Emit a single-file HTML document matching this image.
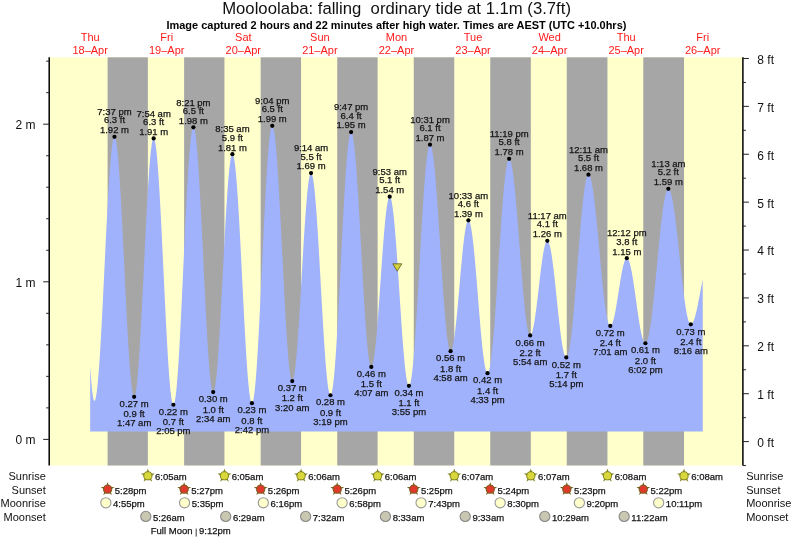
<!DOCTYPE html><html><head><meta charset="utf-8"><style>html,body{margin:0;padding:0;background:#fff;}svg{display:block;will-change:transform;}text{font-family:"Liberation Sans", sans-serif;} .lb{stroke:#1a1a1a;stroke-width:0.25px;}</style></head><body>
<svg width="793" height="539" viewBox="0 0 793 539">
<rect x="50" y="57.3" width="692.3" height="408.2" fill="#ffffcc"/>
<rect x="107.61" y="57.3" width="40.25" height="408.2" fill="#a6a6a6"/>
<rect x="184.13" y="57.3" width="40.31" height="408.2" fill="#a6a6a6"/>
<rect x="260.65" y="57.3" width="40.41" height="408.2" fill="#a6a6a6"/>
<rect x="337.22" y="57.3" width="40.41" height="408.2" fill="#a6a6a6"/>
<rect x="413.74" y="57.3" width="40.52" height="408.2" fill="#a6a6a6"/>
<rect x="490.25" y="57.3" width="40.57" height="408.2" fill="#a6a6a6"/>
<rect x="566.77" y="57.3" width="40.68" height="408.2" fill="#a6a6a6"/>
<rect x="643.29" y="57.3" width="40.73" height="408.2" fill="#a6a6a6"/>
<path d="M90.17,431.6 L90.17,365.82 L90.68,373.53 L91.19,380.38 L91.70,386.32 L92.21,391.29 L92.72,395.27 L93.23,398.22 L93.74,400.10 L94.25,400.91 L94.76,400.71 L95.27,399.66 L95.78,397.78 L96.29,395.07 L96.80,391.56 L97.31,387.28 L97.82,382.23 L98.33,376.47 L98.84,370.02 L99.35,362.92 L99.87,355.23 L100.38,346.98 L100.89,338.24 L101.40,329.06 L101.91,319.49 L102.42,309.60 L102.93,299.46 L103.44,289.11 L103.95,278.64 L104.46,268.11 L104.97,257.58 L105.48,247.12 L105.99,236.80 L106.50,226.69 L107.01,216.84 L107.52,207.33 L108.03,198.21 L108.54,189.54 L109.05,181.37 L109.56,173.76 L110.07,166.76 L110.59,160.40 L111.10,154.74 L111.61,149.81 L112.12,145.63 L112.63,142.24 L113.14,139.65 L113.65,137.89 L114.16,136.96 L114.67,136.88 L115.18,137.65 L115.69,139.28 L116.20,141.76 L116.71,145.07 L117.22,149.18 L117.73,154.08 L118.24,159.73 L118.75,166.09 L119.26,173.11 L119.77,180.76 L120.28,188.98 L120.79,197.72 L121.31,206.92 L121.82,216.51 L122.33,226.44 L122.84,236.64 L123.35,247.03 L123.86,257.56 L124.37,268.15 L124.88,278.73 L125.39,289.24 L125.90,299.59 L126.41,309.73 L126.92,319.58 L127.43,329.08 L127.94,338.17 L128.45,346.78 L128.96,354.86 L129.47,362.36 L129.98,369.22 L130.49,375.41 L131.00,380.87 L131.51,385.58 L132.03,389.49 L132.54,392.60 L133.05,394.86 L133.56,396.28 L134.07,396.84 L134.58,396.53 L135.09,395.35 L135.60,393.31 L136.11,390.42 L136.62,386.70 L137.13,382.18 L137.64,376.88 L138.15,370.85 L138.66,364.12 L139.17,356.74 L139.68,348.76 L140.19,340.23 L140.70,331.21 L141.21,321.76 L141.72,311.94 L142.23,301.83 L142.75,291.48 L143.26,280.98 L143.77,270.38 L144.28,259.77 L144.79,249.20 L145.30,238.77 L145.81,228.52 L146.32,218.54 L146.83,208.90 L147.34,199.64 L147.85,190.85 L148.36,182.58 L148.87,174.88 L149.38,167.80 L149.89,161.40 L150.40,155.72 L150.91,150.79 L151.42,146.65 L151.93,143.32 L152.44,140.84 L152.96,139.21 L153.47,138.45 L153.98,138.56 L154.49,139.54 L155.00,141.40 L155.51,144.12 L156.02,147.69 L156.53,152.07 L157.04,157.23 L157.55,163.16 L158.06,169.80 L158.57,177.11 L159.08,185.05 L159.59,193.55 L160.10,202.58 L160.61,212.05 L161.12,221.92 L161.63,232.12 L162.14,242.58 L162.65,253.23 L163.16,264.00 L163.68,274.83 L164.19,285.63 L164.70,296.33 L165.21,306.88 L165.72,317.19 L166.23,327.19 L166.74,336.84 L167.25,346.05 L167.76,354.76 L168.27,362.93 L168.78,370.50 L169.29,377.41 L169.80,383.62 L170.31,389.09 L170.82,393.79 L171.33,397.68 L171.84,400.73 L172.35,402.94 L172.86,404.27 L173.37,404.73 L173.88,404.30 L174.40,402.98 L174.91,400.79 L175.42,397.72 L175.93,393.81 L176.44,389.08 L176.95,383.56 L177.46,377.28 L177.97,370.29 L178.48,362.62 L178.99,354.34 L179.50,345.48 L180.01,336.12 L180.52,326.30 L181.03,316.10 L181.54,305.58 L182.05,294.80 L182.56,283.84 L183.07,272.76 L183.58,261.64 L184.09,250.54 L184.60,239.55 L185.12,228.73 L185.63,218.15 L186.14,207.87 L186.65,197.97 L187.16,188.51 L187.67,179.54 L188.18,171.14 L188.69,163.34 L189.20,156.20 L189.71,149.77 L190.22,144.08 L190.73,139.19 L191.24,135.10 L191.75,131.86 L192.26,129.48 L192.77,127.98 L193.28,127.37 L193.79,127.64 L194.30,128.77 L194.81,130.76 L195.32,133.59 L195.84,137.25 L196.35,141.71 L196.86,146.93 L197.37,152.90 L197.88,159.56 L198.39,166.88 L198.90,174.80 L199.41,183.28 L199.92,192.26 L200.43,201.68 L200.94,211.48 L201.45,221.59 L201.96,231.96 L202.47,242.50 L202.98,253.16 L203.49,263.86 L204.00,274.53 L204.51,285.11 L205.02,295.52 L205.53,305.70 L206.04,315.58 L206.56,325.09 L207.07,334.17 L207.58,342.77 L208.09,350.83 L208.60,358.29 L209.11,365.11 L209.62,371.24 L210.13,376.64 L210.64,381.27 L211.15,385.11 L211.66,388.14 L212.17,390.32 L212.68,391.65 L213.19,392.12 L213.70,391.74 L214.21,390.53 L214.72,388.50 L215.23,385.67 L215.74,382.06 L216.25,377.68 L216.77,372.57 L217.28,366.78 L217.79,360.32 L218.30,353.26 L218.81,345.64 L219.32,337.52 L219.83,328.94 L220.34,319.98 L220.85,310.69 L221.36,301.14 L221.87,291.39 L222.38,281.51 L222.89,271.58 L223.40,261.66 L223.91,251.81 L224.42,242.12 L224.93,232.64 L225.44,223.45 L225.95,214.60 L226.46,206.16 L226.97,198.18 L227.49,190.73 L228.00,183.86 L228.51,177.60 L229.02,172.02 L229.53,167.14 L230.04,162.99 L230.55,159.62 L231.06,157.04 L231.57,155.27 L232.08,154.32 L232.59,154.20 L233.10,154.91 L233.61,156.47 L234.12,158.84 L234.63,162.03 L235.14,166.00 L235.65,170.74 L236.16,176.20 L236.67,182.35 L237.18,189.15 L237.69,196.56 L238.21,204.52 L238.72,212.98 L239.23,221.89 L239.74,231.17 L240.25,240.78 L240.76,250.65 L241.27,260.70 L241.78,270.87 L242.29,281.10 L242.80,291.31 L243.31,301.43 L243.82,311.40 L244.33,321.15 L244.84,330.62 L245.35,339.73 L245.86,348.43 L246.37,356.66 L246.88,364.36 L247.39,371.48 L247.90,377.98 L248.41,383.80 L248.93,388.92 L249.44,393.29 L249.95,396.89 L250.46,399.69 L250.97,401.68 L251.48,402.83 L251.99,403.15 L252.50,402.61 L253.01,401.20 L253.52,398.95 L254.03,395.86 L254.54,391.95 L255.05,387.25 L255.56,381.78 L256.07,375.58 L256.58,368.69 L257.09,361.15 L257.60,353.01 L258.11,344.31 L258.62,335.12 L259.13,325.49 L259.65,315.48 L260.16,305.15 L260.67,294.56 L261.18,283.79 L261.69,272.90 L262.20,261.95 L262.71,251.03 L263.22,240.18 L263.73,229.49 L264.24,219.01 L264.75,208.82 L265.26,198.97 L265.77,189.54 L266.28,180.56 L266.79,172.12 L267.30,164.24 L267.81,156.99 L268.32,150.42 L268.83,144.55 L269.34,139.43 L269.85,135.08 L270.37,131.55 L270.88,128.84 L271.39,126.97 L271.90,125.97 L272.41,125.82 L272.92,126.51 L273.43,128.01 L273.94,130.31 L274.45,133.41 L274.96,137.28 L275.47,141.90 L275.98,147.23 L276.49,153.25 L277.00,159.91 L277.51,167.17 L278.02,174.99 L278.53,183.31 L279.04,192.08 L279.55,201.25 L280.06,210.75 L280.58,220.53 L281.09,230.52 L281.60,240.65 L282.11,250.87 L282.62,261.11 L283.13,271.29 L283.64,281.36 L284.15,291.25 L284.66,300.90 L285.17,310.24 L285.68,319.22 L286.19,327.77 L286.70,335.85 L287.21,343.40 L287.72,350.36 L288.23,356.71 L288.74,362.39 L289.25,367.37 L289.76,371.61 L290.27,375.10 L290.78,377.81 L291.30,379.71 L291.81,380.80 L292.32,381.08 L292.83,380.57 L293.34,379.32 L293.85,377.33 L294.36,374.60 L294.87,371.17 L295.38,367.06 L295.89,362.29 L296.40,356.91 L296.91,350.95 L297.42,344.45 L297.93,337.46 L298.44,330.04 L298.95,322.23 L299.46,314.09 L299.97,305.68 L300.48,297.07 L300.99,288.31 L301.50,279.47 L302.02,270.61 L302.53,261.80 L303.04,253.10 L303.55,244.58 L304.06,236.29 L304.57,228.29 L305.08,220.65 L305.59,213.42 L306.10,206.65 L306.61,200.39 L307.12,194.69 L307.63,189.59 L308.14,185.12 L308.65,181.31 L309.16,178.20 L309.67,175.81 L310.18,174.16 L310.69,173.25 L311.20,173.09 L311.71,173.69 L312.22,175.04 L312.74,177.14 L313.25,179.97 L313.76,183.51 L314.27,187.74 L314.78,192.62 L315.29,198.13 L315.80,204.22 L316.31,210.87 L316.82,218.01 L317.33,225.60 L317.84,233.59 L318.35,241.93 L318.86,250.56 L319.37,259.41 L319.88,268.44 L320.39,277.57 L320.90,286.75 L321.41,295.90 L321.92,304.98 L322.43,313.92 L322.94,322.65 L323.46,331.13 L323.97,339.28 L324.48,347.05 L324.99,354.40 L325.50,361.26 L326.01,367.60 L326.52,373.37 L327.03,378.54 L327.54,383.05 L328.05,386.90 L328.56,390.04 L329.07,392.46 L329.58,394.14 L330.09,395.07 L330.60,395.24 L331.11,394.63 L331.62,393.23 L332.13,391.04 L332.64,388.09 L333.15,384.38 L333.66,379.95 L334.18,374.81 L334.69,369.00 L335.20,362.56 L335.71,355.52 L336.22,347.92 L336.73,339.81 L337.24,331.25 L337.75,322.28 L338.26,312.95 L338.77,303.33 L339.28,293.46 L339.79,283.42 L340.30,273.26 L340.81,263.04 L341.32,252.82 L341.83,242.67 L342.34,232.64 L342.85,222.81 L343.36,213.22 L343.87,203.93 L344.39,195.01 L344.90,186.50 L345.41,178.45 L345.92,170.93 L346.43,163.96 L346.94,157.59 L347.45,151.86 L347.96,146.81 L348.47,142.47 L348.98,138.85 L349.49,135.99 L350.00,133.91 L350.51,132.60 L351.02,132.09 L351.53,132.35 L352.04,133.35 L352.55,135.08 L353.06,137.53 L353.57,140.69 L354.08,144.53 L354.59,149.03 L355.11,154.16 L355.62,159.90 L356.13,166.20 L356.64,173.02 L357.15,180.32 L357.66,188.06 L358.17,196.19 L358.68,204.65 L359.19,213.39 L359.70,222.37 L360.21,231.51 L360.72,240.76 L361.23,250.07 L361.74,259.38 L362.25,268.63 L362.76,277.75 L363.27,286.70 L363.78,295.41 L364.29,303.83 L364.80,311.91 L365.31,319.60 L365.83,326.85 L366.34,333.61 L366.85,339.84 L367.36,345.50 L367.87,350.55 L368.38,354.97 L368.89,358.73 L369.40,361.80 L369.91,364.16 L370.42,365.80 L370.93,366.71 L371.44,366.88 L371.95,366.38 L372.46,365.24 L372.97,363.47 L373.48,361.07 L373.99,358.08 L374.50,354.50 L375.01,350.38 L375.52,345.73 L376.03,340.60 L376.55,335.02 L377.06,329.03 L377.57,322.69 L378.08,316.04 L378.59,309.13 L379.10,302.01 L379.61,294.73 L380.12,287.36 L380.63,279.95 L381.14,272.55 L381.65,265.22 L382.16,258.01 L382.67,250.99 L383.18,244.20 L383.69,237.70 L384.20,231.53 L384.71,225.74 L385.22,220.38 L385.73,215.48 L386.24,211.09 L386.75,207.24 L387.27,203.95 L387.78,201.25 L388.29,199.17 L388.80,197.71 L389.31,196.89 L389.82,196.71 L390.33,197.19 L390.84,198.32 L391.35,200.10 L391.86,202.51 L392.37,205.53 L392.88,209.15 L393.39,213.33 L393.90,218.06 L394.41,223.30 L394.92,229.01 L395.43,235.15 L395.94,241.67 L396.45,248.55 L396.96,255.71 L397.47,263.13 L397.99,270.74 L398.50,278.49 L399.01,286.33 L399.52,294.21 L400.03,302.06 L400.54,309.84 L401.05,317.50 L401.56,324.96 L402.07,332.20 L402.58,339.15 L403.09,345.77 L403.60,352.01 L404.11,357.83 L404.62,363.19 L405.13,368.05 L405.64,372.37 L406.15,376.13 L406.66,379.31 L407.17,381.87 L407.68,383.81 L408.20,385.10 L408.71,385.74 L409.22,385.72 L409.73,385.01 L410.24,383.60 L410.75,381.51 L411.26,378.74 L411.77,375.31 L412.28,371.25 L412.79,366.57 L413.30,361.31 L413.81,355.49 L414.32,349.14 L414.83,342.31 L415.34,335.03 L415.85,327.35 L416.36,319.30 L416.87,310.95 L417.38,302.33 L417.89,293.49 L418.40,284.49 L418.92,275.38 L419.43,266.21 L419.94,257.03 L420.45,247.90 L420.96,238.88 L421.47,230.00 L421.98,221.33 L422.49,212.92 L423.00,204.80 L423.51,197.04 L424.02,189.68 L424.53,182.75 L425.04,176.30 L425.55,170.36 L426.06,164.98 L426.57,160.18 L427.08,155.98 L427.59,152.42 L428.10,149.52 L428.61,147.28 L429.12,145.73 L429.64,144.87 L430.15,144.71 L430.66,145.19 L431.17,146.30 L431.68,148.02 L432.19,150.35 L432.70,153.27 L433.21,156.77 L433.72,160.82 L434.23,165.40 L434.74,170.48 L435.25,176.03 L435.76,182.01 L436.27,188.40 L436.78,195.15 L437.29,202.21 L437.80,209.56 L438.31,217.13 L438.82,224.90 L439.33,232.80 L439.84,240.80 L440.36,248.84 L440.87,256.87 L441.38,264.85 L441.89,272.73 L442.40,280.45 L442.91,287.98 L443.42,295.27 L443.93,302.26 L444.44,308.93 L444.95,315.23 L445.46,321.12 L445.97,326.56 L446.48,331.53 L446.99,335.99 L447.50,339.91 L448.01,343.28 L448.52,346.07 L449.03,348.26 L449.54,349.84 L450.05,350.80 L450.56,351.14 L451.08,350.90 L451.59,350.13 L452.10,348.84 L452.61,347.03 L453.12,344.74 L453.63,341.96 L454.14,338.72 L454.65,335.06 L455.16,331.00 L455.67,326.57 L456.18,321.81 L456.69,316.76 L457.20,311.46 L457.71,305.95 L458.22,300.28 L458.73,294.48 L459.24,288.62 L459.75,282.74 L460.26,276.87 L460.77,271.08 L461.28,265.41 L461.80,259.91 L462.31,254.61 L462.82,249.56 L463.33,244.81 L463.84,240.39 L464.35,236.34 L464.86,232.68 L465.37,229.46 L465.88,226.69 L466.39,224.40 L466.90,222.61 L467.41,221.33 L467.92,220.57 L468.43,220.34 L468.94,220.64 L469.45,221.47 L469.96,222.84 L470.47,224.72 L470.98,227.11 L471.49,229.98 L472.01,233.33 L472.52,237.12 L473.03,241.33 L473.54,245.92 L474.05,250.88 L474.56,256.15 L475.07,261.71 L475.58,267.52 L476.09,273.53 L476.60,279.71 L477.11,286.00 L477.62,292.37 L478.13,298.77 L478.64,305.16 L479.15,311.49 L479.66,317.71 L480.17,323.79 L480.68,329.68 L481.19,335.34 L481.70,340.72 L482.21,345.80 L482.73,350.54 L483.24,354.89 L483.75,358.84 L484.26,362.36 L484.77,365.41 L485.28,367.99 L485.79,370.06 L486.30,371.62 L486.81,372.65 L487.32,373.16 L487.83,373.11 L488.34,372.49 L488.85,371.27 L489.36,369.48 L489.87,367.11 L490.38,364.19 L490.89,360.72 L491.40,356.74 L491.91,352.25 L492.42,347.29 L492.93,341.88 L493.45,336.05 L493.96,329.83 L494.47,323.27 L494.98,316.38 L495.49,309.22 L496.00,301.83 L496.51,294.23 L497.02,286.48 L497.53,278.62 L498.04,270.68 L498.55,262.72 L499.06,254.78 L499.57,246.90 L500.08,239.13 L500.59,231.51 L501.10,224.07 L501.61,216.87 L502.12,209.94 L502.63,203.32 L503.14,197.04 L503.65,191.15 L504.17,185.66 L504.68,180.62 L505.19,176.06 L505.70,171.98 L506.21,168.43 L506.72,165.42 L507.23,162.96 L507.74,161.07 L508.25,159.75 L508.76,159.03 L509.27,158.89 L509.78,159.29 L510.29,160.20 L510.80,161.61 L511.31,163.52 L511.82,165.92 L512.33,168.80 L512.84,172.13 L513.35,175.89 L513.86,180.07 L514.37,184.65 L514.89,189.58 L515.40,194.86 L515.91,200.43 L516.42,206.28 L516.93,212.37 L517.44,218.66 L517.95,225.11 L518.46,231.69 L518.97,238.37 L519.48,245.09 L519.99,251.83 L520.50,258.54 L521.01,265.18 L521.52,271.72 L522.03,278.11 L522.54,284.32 L523.05,290.32 L523.56,296.07 L524.07,301.53 L524.58,306.67 L525.09,311.46 L525.61,315.88 L526.12,319.91 L526.63,323.50 L527.14,326.65 L527.65,329.34 L528.16,331.55 L528.67,333.27 L529.18,334.48 L529.69,335.19 L530.20,335.38 L530.71,335.12 L531.22,334.46 L531.73,333.39 L532.24,331.92 L532.75,330.07 L533.26,327.86 L533.77,325.30 L534.28,322.42 L534.79,319.24 L535.30,315.78 L535.82,312.09 L536.33,308.18 L536.84,304.11 L537.35,299.89 L537.86,295.57 L538.37,291.18 L538.88,286.77 L539.39,282.37 L539.90,278.02 L540.41,273.76 L540.92,269.62 L541.43,265.64 L541.94,261.86 L542.45,258.31 L542.96,255.02 L543.47,252.01 L543.98,249.32 L544.49,246.97 L545.00,244.97 L545.51,243.36 L546.02,242.13 L546.54,241.30 L547.05,240.88 L547.56,240.87 L548.07,241.28 L548.58,242.10 L549.09,243.32 L549.60,244.95 L550.11,246.96 L550.62,249.34 L551.13,252.08 L551.64,255.16 L552.15,258.54 L552.66,262.22 L553.17,266.16 L553.68,270.34 L554.19,274.72 L554.70,279.27 L555.21,283.97 L555.72,288.77 L556.23,293.65 L556.74,298.57 L557.26,303.49 L557.77,308.38 L558.28,313.21 L558.79,317.93 L559.30,322.53 L559.81,326.95 L560.32,331.17 L560.83,335.17 L561.34,338.91 L561.85,342.37 L562.36,345.51 L562.87,348.33 L563.38,350.80 L563.89,352.90 L564.40,354.61 L564.91,355.93 L565.42,356.84 L565.93,357.34 L566.44,357.43 L566.95,357.05 L567.46,356.20 L567.98,354.87 L568.49,353.08 L569.00,350.83 L569.51,348.15 L570.02,345.03 L570.53,341.50 L571.04,337.57 L571.55,333.27 L572.06,328.62 L572.57,323.65 L573.08,318.37 L573.59,312.81 L574.10,307.02 L574.61,301.00 L575.12,294.81 L575.63,288.47 L576.14,282.00 L576.65,275.46 L577.16,268.86 L577.67,262.25 L578.18,255.66 L578.70,249.13 L579.21,242.68 L579.72,236.36 L580.23,230.19 L580.74,224.20 L581.25,218.44 L581.76,212.93 L582.27,207.69 L582.78,202.76 L583.29,198.16 L583.80,193.91 L584.31,190.04 L584.82,186.57 L585.33,183.51 L585.84,180.89 L586.35,178.71 L586.86,176.99 L587.37,175.73 L587.88,174.95 L588.39,174.64 L588.90,174.78 L589.42,175.33 L589.93,176.29 L590.44,177.65 L590.95,179.40 L591.46,181.54 L591.97,184.05 L592.48,186.91 L592.99,190.12 L593.50,193.65 L594.01,197.49 L594.52,201.61 L595.03,206.00 L595.54,210.63 L596.05,215.47 L596.56,220.50 L597.07,225.69 L597.58,231.02 L598.09,236.45 L598.60,241.95 L599.11,247.50 L599.63,253.06 L600.14,258.61 L600.65,264.11 L601.16,269.54 L601.67,274.87 L602.18,280.06 L602.69,285.09 L603.20,289.93 L603.71,294.56 L604.22,298.95 L604.73,303.07 L605.24,306.91 L605.75,310.44 L606.26,313.65 L606.77,316.51 L607.28,319.02 L607.79,321.16 L608.30,322.91 L608.81,324.27 L609.32,325.23 L609.83,325.78 L610.35,325.92 L610.86,325.72 L611.37,325.20 L611.88,324.36 L612.39,323.23 L612.90,321.80 L613.41,320.09 L613.92,318.11 L614.43,315.89 L614.94,313.45 L615.45,310.81 L615.96,307.99 L616.47,305.02 L616.98,301.93 L617.49,298.74 L618.00,295.50 L618.51,292.22 L619.02,288.93 L619.53,285.68 L620.04,282.49 L620.55,279.39 L621.07,276.40 L621.58,273.57 L622.09,270.90 L622.60,268.44 L623.11,266.20 L623.62,264.20 L624.13,262.46 L624.64,261.00 L625.15,259.83 L625.66,258.96 L626.17,258.41 L626.68,258.17 L627.19,258.25 L627.70,258.64 L628.21,259.35 L628.72,260.36 L629.23,261.67 L629.74,263.28 L630.25,265.16 L630.76,267.30 L631.27,269.69 L631.79,272.31 L632.30,275.15 L632.81,278.17 L633.32,281.36 L633.83,284.69 L634.34,288.15 L634.85,291.69 L635.36,295.30 L635.87,298.96 L636.38,302.62 L636.89,306.27 L637.40,309.88 L637.91,313.42 L638.42,316.87 L638.93,320.20 L639.44,323.38 L639.95,326.40 L640.46,329.22 L640.97,331.84 L641.48,334.22 L641.99,336.35 L642.51,338.22 L643.02,339.81 L643.53,341.11 L644.04,342.11 L644.55,342.80 L645.06,343.18 L645.57,343.25 L646.08,342.95 L646.59,342.27 L647.10,341.22 L647.61,339.81 L648.12,338.03 L648.63,335.90 L649.14,333.43 L649.65,330.63 L650.16,327.51 L650.67,324.09 L651.18,320.39 L651.69,316.42 L652.20,312.20 L652.71,307.76 L653.23,303.11 L653.74,298.29 L654.25,293.30 L654.76,288.18 L655.27,282.96 L655.78,277.65 L656.29,272.28 L656.80,266.88 L657.31,261.48 L657.82,256.10 L658.33,250.77 L658.84,245.52 L659.35,240.36 L659.86,235.33 L660.37,230.46 L660.88,225.75 L661.39,221.24 L661.90,216.95 L662.41,212.91 L662.92,209.12 L663.44,205.61 L663.95,202.40 L664.46,199.49 L664.97,196.92 L665.48,194.68 L665.99,192.79 L666.50,191.26 L667.01,190.09 L667.52,189.30 L668.03,188.89 L668.54,188.84 L669.05,189.15 L669.56,189.80 L670.07,190.79 L670.58,192.12 L671.09,193.77 L671.60,195.74 L672.11,198.02 L672.62,200.60 L673.13,203.46 L673.64,206.59 L674.16,209.98 L674.67,213.60 L675.18,217.45 L675.69,221.49 L676.20,225.71 L676.71,230.08 L677.22,234.59 L677.73,239.21 L678.24,243.93 L678.75,248.70 L679.26,253.51 L679.77,258.35 L680.28,263.17 L680.79,267.96 L681.30,272.69 L681.81,277.33 L682.32,281.88 L682.83,286.29 L683.34,290.56 L683.85,294.65 L684.36,298.54 L684.88,302.23 L685.39,305.68 L685.90,308.88 L686.41,311.82 L686.92,314.48 L687.43,316.84 L687.94,318.90 L688.45,320.64 L688.96,322.05 L689.47,323.13 L689.98,323.87 L690.49,324.28 L691.00,324.34 L691.51,324.14 L692.02,323.71 L692.53,323.05 L693.04,322.16 L693.55,321.05 L694.06,319.73 L694.57,318.22 L695.08,316.51 L695.60,314.62 L696.11,312.58 L696.62,310.39 L697.13,308.07 L697.64,305.64 L698.15,303.12 L698.66,300.52 L699.17,297.87 L699.68,295.19 L700.19,292.50 L700.70,289.81 L701.21,287.16 L701.72,284.55 L702.23,282.02 L702.74,279.57 L702.74,431.6 Z" fill="#a0b2fb"/>
<circle cx="114.47" cy="136.81" r="2.1" fill="#000"/>
<text x="114.47" y="115.11" font-size="9.5" text-anchor="middle" fill="#111" class="lb">7:37 pm</text>
<text x="114.47" y="123.41" font-size="9.5" text-anchor="middle" fill="#111" class="lb">6.3 ft</text>
<text x="114.47" y="133.21" font-size="9.5" text-anchor="middle" fill="#111" class="lb">1.92 m</text>
<circle cx="134.14" cy="396.85" r="2.1" fill="#000"/>
<text x="134.14" y="407.05" font-size="9.5" text-anchor="middle" fill="#111" class="lb">0.27 m</text>
<text x="134.14" y="417.25" font-size="9.5" text-anchor="middle" fill="#111" class="lb">0.9 ft</text>
<text x="134.14" y="426.35" font-size="9.5" text-anchor="middle" fill="#111" class="lb">1:47 am</text>
<circle cx="153.66" cy="138.38" r="2.1" fill="#000"/>
<text x="153.66" y="116.68" font-size="9.5" text-anchor="middle" fill="#111" class="lb">7:54 am</text>
<text x="153.66" y="124.98" font-size="9.5" text-anchor="middle" fill="#111" class="lb">6.3 ft</text>
<text x="153.66" y="134.78" font-size="9.5" text-anchor="middle" fill="#111" class="lb">1.91 m</text>
<circle cx="173.38" cy="404.73" r="2.1" fill="#000"/>
<text x="173.38" y="414.93" font-size="9.5" text-anchor="middle" fill="#111" class="lb">0.22 m</text>
<text x="173.38" y="425.13" font-size="9.5" text-anchor="middle" fill="#111" class="lb">0.7 ft</text>
<text x="173.38" y="434.23" font-size="9.5" text-anchor="middle" fill="#111" class="lb">2:05 pm</text>
<circle cx="193.38" cy="127.35" r="2.1" fill="#000"/>
<text x="193.38" y="105.65" font-size="9.5" text-anchor="middle" fill="#111" class="lb">8:21 pm</text>
<text x="193.38" y="113.95" font-size="9.5" text-anchor="middle" fill="#111" class="lb">6.5 ft</text>
<text x="193.38" y="123.75" font-size="9.5" text-anchor="middle" fill="#111" class="lb">1.98 m</text>
<circle cx="213.21" cy="392.12" r="2.1" fill="#000"/>
<text x="213.21" y="402.32" font-size="9.5" text-anchor="middle" fill="#111" class="lb">0.30 m</text>
<text x="213.21" y="412.52" font-size="9.5" text-anchor="middle" fill="#111" class="lb">1.0 ft</text>
<text x="213.21" y="421.62" font-size="9.5" text-anchor="middle" fill="#111" class="lb">2:34 am</text>
<circle cx="232.41" cy="154.14" r="2.1" fill="#000"/>
<text x="232.41" y="132.44" font-size="9.5" text-anchor="middle" fill="#111" class="lb">8:35 am</text>
<text x="232.41" y="140.74" font-size="9.5" text-anchor="middle" fill="#111" class="lb">5.9 ft</text>
<text x="232.41" y="150.54" font-size="9.5" text-anchor="middle" fill="#111" class="lb">1.81 m</text>
<circle cx="251.92" cy="403.15" r="2.1" fill="#000"/>
<text x="251.92" y="413.35" font-size="9.5" text-anchor="middle" fill="#111" class="lb">0.23 m</text>
<text x="251.92" y="423.55" font-size="9.5" text-anchor="middle" fill="#111" class="lb">0.8 ft</text>
<text x="251.92" y="432.65" font-size="9.5" text-anchor="middle" fill="#111" class="lb">2:42 pm</text>
<circle cx="272.24" cy="125.78" r="2.1" fill="#000"/>
<text x="272.24" y="104.08" font-size="9.5" text-anchor="middle" fill="#111" class="lb">9:04 pm</text>
<text x="272.24" y="112.38" font-size="9.5" text-anchor="middle" fill="#111" class="lb">6.5 ft</text>
<text x="272.24" y="122.18" font-size="9.5" text-anchor="middle" fill="#111" class="lb">1.99 m</text>
<circle cx="292.23" cy="381.09" r="2.1" fill="#000"/>
<text x="292.23" y="391.29" font-size="9.5" text-anchor="middle" fill="#111" class="lb">0.37 m</text>
<text x="292.23" y="401.49" font-size="9.5" text-anchor="middle" fill="#111" class="lb">1.2 ft</text>
<text x="292.23" y="410.59" font-size="9.5" text-anchor="middle" fill="#111" class="lb">3:20 am</text>
<circle cx="311.05" cy="173.06" r="2.1" fill="#000"/>
<text x="311.05" y="151.36" font-size="9.5" text-anchor="middle" fill="#111" class="lb">9:14 am</text>
<text x="311.05" y="159.66" font-size="9.5" text-anchor="middle" fill="#111" class="lb">5.5 ft</text>
<text x="311.05" y="169.46" font-size="9.5" text-anchor="middle" fill="#111" class="lb">1.69 m</text>
<circle cx="330.46" cy="395.27" r="2.1" fill="#000"/>
<text x="330.46" y="405.47" font-size="9.5" text-anchor="middle" fill="#111" class="lb">0.28 m</text>
<text x="330.46" y="415.67" font-size="9.5" text-anchor="middle" fill="#111" class="lb">0.9 ft</text>
<text x="330.46" y="424.77" font-size="9.5" text-anchor="middle" fill="#111" class="lb">3:19 pm</text>
<circle cx="351.10" cy="132.08" r="2.1" fill="#000"/>
<text x="351.10" y="110.38" font-size="9.5" text-anchor="middle" fill="#111" class="lb">9:47 pm</text>
<text x="351.10" y="118.68" font-size="9.5" text-anchor="middle" fill="#111" class="lb">6.4 ft</text>
<text x="351.10" y="128.48" font-size="9.5" text-anchor="middle" fill="#111" class="lb">1.95 m</text>
<circle cx="371.30" cy="366.90" r="2.1" fill="#000"/>
<text x="371.30" y="377.10" font-size="9.5" text-anchor="middle" fill="#111" class="lb">0.46 m</text>
<text x="371.30" y="387.30" font-size="9.5" text-anchor="middle" fill="#111" class="lb">1.5 ft</text>
<text x="371.30" y="396.40" font-size="9.5" text-anchor="middle" fill="#111" class="lb">4:07 am</text>
<circle cx="389.70" cy="196.70" r="2.1" fill="#000"/>
<text x="389.70" y="175.00" font-size="9.5" text-anchor="middle" fill="#111" class="lb">9:53 am</text>
<text x="389.70" y="183.30" font-size="9.5" text-anchor="middle" fill="#111" class="lb">5.1 ft</text>
<text x="389.70" y="193.10" font-size="9.5" text-anchor="middle" fill="#111" class="lb">1.54 m</text>
<circle cx="408.95" cy="385.82" r="2.1" fill="#000"/>
<text x="408.95" y="396.02" font-size="9.5" text-anchor="middle" fill="#111" class="lb">0.34 m</text>
<text x="408.95" y="406.22" font-size="9.5" text-anchor="middle" fill="#111" class="lb">1.1 ft</text>
<text x="408.95" y="415.32" font-size="9.5" text-anchor="middle" fill="#111" class="lb">3:55 pm</text>
<circle cx="430.01" cy="144.69" r="2.1" fill="#000"/>
<text x="430.01" y="122.99" font-size="9.5" text-anchor="middle" fill="#111" class="lb">10:31 pm</text>
<text x="430.01" y="131.29" font-size="9.5" text-anchor="middle" fill="#111" class="lb">6.1 ft</text>
<text x="430.01" y="141.09" font-size="9.5" text-anchor="middle" fill="#111" class="lb">1.87 m</text>
<circle cx="450.59" cy="351.14" r="2.1" fill="#000"/>
<text x="450.59" y="361.34" font-size="9.5" text-anchor="middle" fill="#111" class="lb">0.56 m</text>
<text x="450.59" y="371.54" font-size="9.5" text-anchor="middle" fill="#111" class="lb">1.8 ft</text>
<text x="450.59" y="380.64" font-size="9.5" text-anchor="middle" fill="#111" class="lb">4:58 am</text>
<circle cx="468.40" cy="220.34" r="2.1" fill="#000"/>
<text x="468.40" y="198.64" font-size="9.5" text-anchor="middle" fill="#111" class="lb">10:33 am</text>
<text x="468.40" y="206.94" font-size="9.5" text-anchor="middle" fill="#111" class="lb">4.6 ft</text>
<text x="468.40" y="216.74" font-size="9.5" text-anchor="middle" fill="#111" class="lb">1.39 m</text>
<circle cx="487.54" cy="373.21" r="2.1" fill="#000"/>
<text x="487.54" y="383.41" font-size="9.5" text-anchor="middle" fill="#111" class="lb">0.42 m</text>
<text x="487.54" y="393.61" font-size="9.5" text-anchor="middle" fill="#111" class="lb">1.4 ft</text>
<text x="487.54" y="402.71" font-size="9.5" text-anchor="middle" fill="#111" class="lb">4:33 pm</text>
<circle cx="509.13" cy="158.87" r="2.1" fill="#000"/>
<text x="509.13" y="137.17" font-size="9.5" text-anchor="middle" fill="#111" class="lb">11:19 pm</text>
<text x="509.13" y="145.47" font-size="9.5" text-anchor="middle" fill="#111" class="lb">5.8 ft</text>
<text x="509.13" y="155.27" font-size="9.5" text-anchor="middle" fill="#111" class="lb">1.78 m</text>
<circle cx="530.14" cy="335.38" r="2.1" fill="#000"/>
<text x="530.14" y="345.58" font-size="9.5" text-anchor="middle" fill="#111" class="lb">0.66 m</text>
<text x="530.14" y="355.78" font-size="9.5" text-anchor="middle" fill="#111" class="lb">2.2 ft</text>
<text x="530.14" y="364.88" font-size="9.5" text-anchor="middle" fill="#111" class="lb">5:54 am</text>
<circle cx="547.31" cy="240.82" r="2.1" fill="#000"/>
<text x="547.31" y="219.12" font-size="9.5" text-anchor="middle" fill="#111" class="lb">11:17 am</text>
<text x="547.31" y="227.42" font-size="9.5" text-anchor="middle" fill="#111" class="lb">4.1 ft</text>
<text x="547.31" y="237.22" font-size="9.5" text-anchor="middle" fill="#111" class="lb">1.26 m</text>
<circle cx="566.29" cy="357.45" r="2.1" fill="#000"/>
<text x="566.29" y="367.65" font-size="9.5" text-anchor="middle" fill="#111" class="lb">0.52 m</text>
<text x="566.29" y="377.85" font-size="9.5" text-anchor="middle" fill="#111" class="lb">1.7 ft</text>
<text x="566.29" y="386.95" font-size="9.5" text-anchor="middle" fill="#111" class="lb">5:14 pm</text>
<circle cx="588.47" cy="174.63" r="2.1" fill="#000"/>
<text x="588.47" y="152.93" font-size="9.5" text-anchor="middle" fill="#111" class="lb">12:11 am</text>
<text x="588.47" y="161.23" font-size="9.5" text-anchor="middle" fill="#111" class="lb">5.5 ft</text>
<text x="588.47" y="171.03" font-size="9.5" text-anchor="middle" fill="#111" class="lb">1.68 m</text>
<circle cx="610.27" cy="325.93" r="2.1" fill="#000"/>
<text x="610.27" y="336.13" font-size="9.5" text-anchor="middle" fill="#111" class="lb">0.72 m</text>
<text x="610.27" y="346.33" font-size="9.5" text-anchor="middle" fill="#111" class="lb">2.4 ft</text>
<text x="610.27" y="355.43" font-size="9.5" text-anchor="middle" fill="#111" class="lb">7:01 am</text>
<circle cx="626.81" cy="258.16" r="2.1" fill="#000"/>
<text x="626.81" y="236.46" font-size="9.5" text-anchor="middle" fill="#111" class="lb">12:12 pm</text>
<text x="626.81" y="244.76" font-size="9.5" text-anchor="middle" fill="#111" class="lb">3.8 ft</text>
<text x="626.81" y="254.56" font-size="9.5" text-anchor="middle" fill="#111" class="lb">1.15 m</text>
<circle cx="645.42" cy="343.26" r="2.1" fill="#000"/>
<text x="645.42" y="353.46" font-size="9.5" text-anchor="middle" fill="#111" class="lb">0.61 m</text>
<text x="645.42" y="363.66" font-size="9.5" text-anchor="middle" fill="#111" class="lb">2.0 ft</text>
<text x="645.42" y="372.76" font-size="9.5" text-anchor="middle" fill="#111" class="lb">6:02 pm</text>
<circle cx="668.34" cy="188.82" r="2.1" fill="#000"/>
<text x="668.34" y="167.12" font-size="9.5" text-anchor="middle" fill="#111" class="lb">1:13 am</text>
<text x="668.34" y="175.42" font-size="9.5" text-anchor="middle" fill="#111" class="lb">5.2 ft</text>
<text x="668.34" y="185.22" font-size="9.5" text-anchor="middle" fill="#111" class="lb">1.59 m</text>
<circle cx="690.83" cy="324.35" r="2.1" fill="#000"/>
<text x="690.83" y="334.55" font-size="9.5" text-anchor="middle" fill="#111" class="lb">0.73 m</text>
<text x="690.83" y="344.75" font-size="9.5" text-anchor="middle" fill="#111" class="lb">2.4 ft</text>
<text x="690.83" y="353.85" font-size="9.5" text-anchor="middle" fill="#111" class="lb">8:16 am</text>
<path d="M392.8,263.8 L401.8,263.8 L397.2,271.2 Z" fill="#d6d23a" stroke="#5a5a20" stroke-width="0.8"/>
<line x1="49.2" y1="57.3" x2="49.2" y2="465.5" stroke="#000" stroke-width="1.5"/>
<line x1="43.2" y1="439.40" x2="49.2" y2="439.40" stroke="#222" stroke-width="1"/>
<line x1="46.2" y1="407.88" x2="49.2" y2="407.88" stroke="#222" stroke-width="1"/>
<line x1="46.2" y1="376.36" x2="49.2" y2="376.36" stroke="#222" stroke-width="1"/>
<line x1="46.2" y1="344.84" x2="49.2" y2="344.84" stroke="#222" stroke-width="1"/>
<line x1="46.2" y1="313.32" x2="49.2" y2="313.32" stroke="#222" stroke-width="1"/>
<line x1="43.2" y1="281.80" x2="49.2" y2="281.80" stroke="#222" stroke-width="1"/>
<line x1="46.2" y1="250.28" x2="49.2" y2="250.28" stroke="#222" stroke-width="1"/>
<line x1="46.2" y1="218.76" x2="49.2" y2="218.76" stroke="#222" stroke-width="1"/>
<line x1="46.2" y1="187.24" x2="49.2" y2="187.24" stroke="#222" stroke-width="1"/>
<line x1="46.2" y1="155.72" x2="49.2" y2="155.72" stroke="#222" stroke-width="1"/>
<line x1="43.2" y1="124.20" x2="49.2" y2="124.20" stroke="#222" stroke-width="1"/>
<line x1="46.2" y1="92.68" x2="49.2" y2="92.68" stroke="#222" stroke-width="1"/>
<line x1="46.2" y1="61.16" x2="49.2" y2="61.16" stroke="#222" stroke-width="1"/>
<text x="35.5" y="444.20" font-size="12" text-anchor="end" fill="#111">0 m</text>
<text x="35.5" y="286.60" font-size="12" text-anchor="end" fill="#111">1 m</text>
<text x="35.5" y="129.00" font-size="12" text-anchor="end" fill="#111">2 m</text>
<line x1="742.9" y1="57.3" x2="742.9" y2="465.5" stroke="#000" stroke-width="1.5"/>
<line x1="742.9" y1="465.55" x2="745.9" y2="465.55" stroke="#222" stroke-width="1"/>
<line x1="742.9" y1="441.60" x2="748.9" y2="441.60" stroke="#222" stroke-width="1"/>
<line x1="742.9" y1="417.66" x2="745.9" y2="417.66" stroke="#222" stroke-width="1"/>
<line x1="742.9" y1="393.71" x2="748.9" y2="393.71" stroke="#222" stroke-width="1"/>
<line x1="742.9" y1="369.76" x2="745.9" y2="369.76" stroke="#222" stroke-width="1"/>
<line x1="742.9" y1="345.82" x2="748.9" y2="345.82" stroke="#222" stroke-width="1"/>
<line x1="742.9" y1="321.88" x2="745.9" y2="321.88" stroke="#222" stroke-width="1"/>
<line x1="742.9" y1="297.93" x2="748.9" y2="297.93" stroke="#222" stroke-width="1"/>
<line x1="742.9" y1="273.99" x2="745.9" y2="273.99" stroke="#222" stroke-width="1"/>
<line x1="742.9" y1="250.04" x2="748.9" y2="250.04" stroke="#222" stroke-width="1"/>
<line x1="742.9" y1="226.10" x2="745.9" y2="226.10" stroke="#222" stroke-width="1"/>
<line x1="742.9" y1="202.15" x2="748.9" y2="202.15" stroke="#222" stroke-width="1"/>
<line x1="742.9" y1="178.21" x2="745.9" y2="178.21" stroke="#222" stroke-width="1"/>
<line x1="742.9" y1="154.26" x2="748.9" y2="154.26" stroke="#222" stroke-width="1"/>
<line x1="742.9" y1="130.31" x2="745.9" y2="130.31" stroke="#222" stroke-width="1"/>
<line x1="742.9" y1="106.37" x2="748.9" y2="106.37" stroke="#222" stroke-width="1"/>
<line x1="742.9" y1="82.43" x2="745.9" y2="82.43" stroke="#222" stroke-width="1"/>
<line x1="742.9" y1="58.48" x2="748.9" y2="58.48" stroke="#222" stroke-width="1"/>
<text x="757.3" y="447.00" font-size="12" fill="#111">0 ft</text>
<text x="757.3" y="399.11" font-size="12" fill="#111">1 ft</text>
<text x="757.3" y="351.22" font-size="12" fill="#111">2 ft</text>
<text x="757.3" y="303.33" font-size="12" fill="#111">3 ft</text>
<text x="757.3" y="255.44" font-size="12" fill="#111">4 ft</text>
<text x="757.3" y="207.55" font-size="12" fill="#111">5 ft</text>
<text x="757.3" y="159.66" font-size="12" fill="#111">6 ft</text>
<text x="757.3" y="111.77" font-size="12" fill="#111">7 ft</text>
<text x="757.3" y="63.88" font-size="12" fill="#111">8 ft</text>
<text x="222.2" y="14.4" font-size="16.7" fill="#111">Mooloolaba: falling  ordinary tide at 1.1m (3.7ft)</text>
<text x="166.5" y="28.8" font-size="10.96" font-weight="bold" fill="#000">Image captured 2 hours and 22 minutes after high water. Times are AEST (UTC +10.0hrs)</text>
<text x="90.17" y="41.3" font-size="11" text-anchor="middle" fill="#ff1a1a">Thu</text>
<text x="90.17" y="53.6" font-size="11" text-anchor="middle" fill="#ff1a1a">18–Apr</text>
<text x="166.74" y="41.3" font-size="11" text-anchor="middle" fill="#ff1a1a">Fri</text>
<text x="166.74" y="53.6" font-size="11" text-anchor="middle" fill="#ff1a1a">19–Apr</text>
<text x="243.31" y="41.3" font-size="11" text-anchor="middle" fill="#ff1a1a">Sat</text>
<text x="243.31" y="53.6" font-size="11" text-anchor="middle" fill="#ff1a1a">20–Apr</text>
<text x="319.88" y="41.3" font-size="11" text-anchor="middle" fill="#ff1a1a">Sun</text>
<text x="319.88" y="53.6" font-size="11" text-anchor="middle" fill="#ff1a1a">21–Apr</text>
<text x="396.45" y="41.3" font-size="11" text-anchor="middle" fill="#ff1a1a">Mon</text>
<text x="396.45" y="53.6" font-size="11" text-anchor="middle" fill="#ff1a1a">22–Apr</text>
<text x="473.03" y="41.3" font-size="11" text-anchor="middle" fill="#ff1a1a">Tue</text>
<text x="473.03" y="53.6" font-size="11" text-anchor="middle" fill="#ff1a1a">23–Apr</text>
<text x="549.60" y="41.3" font-size="11" text-anchor="middle" fill="#ff1a1a">Wed</text>
<text x="549.60" y="53.6" font-size="11" text-anchor="middle" fill="#ff1a1a">24–Apr</text>
<text x="626.17" y="41.3" font-size="11" text-anchor="middle" fill="#ff1a1a">Thu</text>
<text x="626.17" y="53.6" font-size="11" text-anchor="middle" fill="#ff1a1a">25–Apr</text>
<text x="702.74" y="41.3" font-size="11" text-anchor="middle" fill="#ff1a1a">Fri</text>
<text x="702.74" y="53.6" font-size="11" text-anchor="middle" fill="#ff1a1a">26–Apr</text>
<text x="45.8" y="480.1" font-size="11" text-anchor="end" fill="#111">Sunrise</text>
<text x="746.2" y="480.1" font-size="11" fill="#111">Sunrise</text>
<text x="45.8" y="493.9" font-size="11" text-anchor="end" fill="#111">Sunset</text>
<text x="746.2" y="493.9" font-size="11" fill="#111">Sunset</text>
<text x="45.8" y="507.2" font-size="11" text-anchor="end" fill="#111">Moonrise</text>
<text x="746.2" y="507.2" font-size="11" fill="#111">Moonrise</text>
<text x="45.8" y="521" font-size="11" text-anchor="end" fill="#111">Moonset</text>
<text x="746.2" y="521" font-size="11" fill="#111">Moonset</text>
<polygon points="147.86,468.50 149.51,473.53 154.80,473.54 150.52,476.67 152.15,481.71 147.86,478.60 143.57,481.71 145.20,476.67 140.92,473.54 146.22,473.53" fill="#80801c"/><circle cx="147.86" cy="475.80" r="4.1" fill="#d8d83c" stroke="#80801c" stroke-width="1"/>
<text x="155.06" y="479.8" font-size="9.5" fill="#111" class="lb">6:05am</text>
<polygon points="224.43,468.50 226.08,473.53 231.38,473.54 227.10,476.67 228.72,481.71 224.43,478.60 220.14,481.71 221.77,476.67 217.49,473.54 222.79,473.53" fill="#80801c"/><circle cx="224.43" cy="475.80" r="4.1" fill="#d8d83c" stroke="#80801c" stroke-width="1"/>
<text x="231.63" y="479.8" font-size="9.5" fill="#111" class="lb">6:05am</text>
<polygon points="301.06,468.50 302.70,473.53 308.00,473.54 303.72,476.67 305.35,481.71 301.06,478.60 296.77,481.71 298.40,476.67 294.12,473.54 299.41,473.53" fill="#80801c"/><circle cx="301.06" cy="475.80" r="4.1" fill="#d8d83c" stroke="#80801c" stroke-width="1"/>
<text x="308.26" y="479.8" font-size="9.5" fill="#111" class="lb">6:06am</text>
<polygon points="377.63,468.50 379.28,473.53 384.57,473.54 380.29,476.67 381.92,481.71 377.63,478.60 373.34,481.71 374.97,476.67 370.69,473.54 375.98,473.53" fill="#80801c"/><circle cx="377.63" cy="475.80" r="4.1" fill="#d8d83c" stroke="#80801c" stroke-width="1"/>
<text x="384.83" y="479.8" font-size="9.5" fill="#111" class="lb">6:06am</text>
<polygon points="454.26,468.50 455.90,473.53 461.20,473.54 456.92,476.67 458.55,481.71 454.26,478.60 449.96,481.71 451.59,476.67 447.31,473.54 452.61,473.53" fill="#80801c"/><circle cx="454.26" cy="475.80" r="4.1" fill="#d8d83c" stroke="#80801c" stroke-width="1"/>
<text x="461.46" y="479.8" font-size="9.5" fill="#111" class="lb">6:07am</text>
<polygon points="530.83,468.50 532.47,473.53 537.77,473.54 533.49,476.67 535.12,481.71 530.83,478.60 526.54,481.71 528.16,476.67 523.88,473.54 529.18,473.53" fill="#80801c"/><circle cx="530.83" cy="475.80" r="4.1" fill="#d8d83c" stroke="#80801c" stroke-width="1"/>
<text x="538.03" y="479.8" font-size="9.5" fill="#111" class="lb">6:07am</text>
<polygon points="607.45,468.50 609.10,473.53 614.40,473.54 610.12,476.67 611.74,481.71 607.45,478.60 603.16,481.71 604.79,476.67 600.51,473.54 605.81,473.53" fill="#80801c"/><circle cx="607.45" cy="475.80" r="4.1" fill="#d8d83c" stroke="#80801c" stroke-width="1"/>
<text x="614.65" y="479.8" font-size="9.5" fill="#111" class="lb">6:08am</text>
<polygon points="684.02,468.50 685.67,473.53 690.97,473.54 686.69,476.67 688.32,481.71 684.02,478.60 679.73,481.71 681.36,476.67 677.08,473.54 682.38,473.53" fill="#80801c"/><circle cx="684.02" cy="475.80" r="4.1" fill="#d8d83c" stroke="#80801c" stroke-width="1"/>
<text x="691.22" y="479.8" font-size="9.5" fill="#111" class="lb">6:08am</text>
<polygon points="107.61,481.90 109.25,486.93 114.55,486.94 110.27,490.07 111.90,495.11 107.61,492.00 103.32,495.11 104.94,490.07 100.66,486.94 105.96,486.93" fill="#74601c"/><circle cx="107.61" cy="489.20" r="4.1" fill="#dd3a2c" stroke="#74601c" stroke-width="1"/>
<text x="114.81" y="493.8" font-size="9.5" fill="#111" class="lb">5:28pm</text>
<polygon points="184.13,481.90 185.77,486.93 191.07,486.94 186.79,490.07 188.42,495.11 184.13,492.00 179.84,495.11 181.46,490.07 177.18,486.94 182.48,486.93" fill="#74601c"/><circle cx="184.13" cy="489.20" r="4.1" fill="#dd3a2c" stroke="#74601c" stroke-width="1"/>
<text x="191.33" y="493.8" font-size="9.5" fill="#111" class="lb">5:27pm</text>
<polygon points="260.65,481.90 262.29,486.93 267.59,486.94 263.31,490.07 264.94,495.11 260.65,492.00 256.35,495.11 257.98,490.07 253.70,486.94 259.00,486.93" fill="#74601c"/><circle cx="260.65" cy="489.20" r="4.1" fill="#dd3a2c" stroke="#74601c" stroke-width="1"/>
<text x="267.85" y="493.8" font-size="9.5" fill="#111" class="lb">5:26pm</text>
<polygon points="337.22,481.90 338.86,486.93 344.16,486.94 339.88,490.07 341.51,495.11 337.22,492.00 332.93,495.11 334.55,490.07 330.27,486.94 335.57,486.93" fill="#74601c"/><circle cx="337.22" cy="489.20" r="4.1" fill="#dd3a2c" stroke="#74601c" stroke-width="1"/>
<text x="344.42" y="493.8" font-size="9.5" fill="#111" class="lb">5:26pm</text>
<polygon points="413.74,481.90 415.38,486.93 420.68,486.94 416.40,490.07 418.03,495.11 413.74,492.00 409.45,495.11 411.07,490.07 406.79,486.94 412.09,486.93" fill="#74601c"/><circle cx="413.74" cy="489.20" r="4.1" fill="#dd3a2c" stroke="#74601c" stroke-width="1"/>
<text x="420.94" y="493.8" font-size="9.5" fill="#111" class="lb">5:25pm</text>
<polygon points="490.25,481.90 491.90,486.93 497.20,486.94 492.92,490.07 494.55,495.11 490.25,492.00 485.96,495.11 487.59,490.07 483.31,486.94 488.61,486.93" fill="#74601c"/><circle cx="490.25" cy="489.20" r="4.1" fill="#dd3a2c" stroke="#74601c" stroke-width="1"/>
<text x="497.45" y="493.8" font-size="9.5" fill="#111" class="lb">5:24pm</text>
<polygon points="566.77,481.90 568.42,486.93 573.72,486.94 569.44,490.07 571.06,495.11 566.77,492.00 562.48,495.11 564.11,490.07 559.83,486.94 565.13,486.93" fill="#74601c"/><circle cx="566.77" cy="489.20" r="4.1" fill="#dd3a2c" stroke="#74601c" stroke-width="1"/>
<text x="573.97" y="493.8" font-size="9.5" fill="#111" class="lb">5:23pm</text>
<polygon points="643.29,481.90 644.94,486.93 650.24,486.94 645.96,490.07 647.58,495.11 643.29,492.00 639.00,495.11 640.63,490.07 636.35,486.94 641.65,486.93" fill="#74601c"/><circle cx="643.29" cy="489.20" r="4.1" fill="#dd3a2c" stroke="#74601c" stroke-width="1"/>
<text x="650.49" y="493.8" font-size="9.5" fill="#111" class="lb">5:22pm</text>
<circle cx="105.85" cy="502.8" r="5.1" fill="#ffffcc" stroke="#999" stroke-width="1.1"/>
<text x="113.05" y="507.3" font-size="9.5" fill="#111" class="lb">4:55pm</text>
<circle cx="184.55" cy="502.8" r="5.1" fill="#ffffcc" stroke="#999" stroke-width="1.1"/>
<text x="191.75" y="507.3" font-size="9.5" fill="#111" class="lb">5:35pm</text>
<circle cx="263.30" cy="502.8" r="5.1" fill="#ffffcc" stroke="#999" stroke-width="1.1"/>
<text x="270.50" y="507.3" font-size="9.5" fill="#111" class="lb">6:16pm</text>
<circle cx="342.11" cy="502.8" r="5.1" fill="#ffffcc" stroke="#999" stroke-width="1.1"/>
<text x="349.31" y="507.3" font-size="9.5" fill="#111" class="lb">6:58pm</text>
<circle cx="421.07" cy="502.8" r="5.1" fill="#ffffcc" stroke="#999" stroke-width="1.1"/>
<text x="428.27" y="507.3" font-size="9.5" fill="#111" class="lb">7:43pm</text>
<circle cx="500.15" cy="502.8" r="5.1" fill="#ffffcc" stroke="#999" stroke-width="1.1"/>
<text x="507.35" y="507.3" font-size="9.5" fill="#111" class="lb">8:30pm</text>
<circle cx="579.38" cy="502.8" r="5.1" fill="#ffffcc" stroke="#999" stroke-width="1.1"/>
<text x="586.58" y="507.3" font-size="9.5" fill="#111" class="lb">9:20pm</text>
<circle cx="658.66" cy="502.8" r="5.1" fill="#ffffcc" stroke="#999" stroke-width="1.1"/>
<text x="665.86" y="507.3" font-size="9.5" fill="#111" class="lb">10:11pm</text>
<circle cx="145.79" cy="516.4" r="5.1" fill="#c9c7b1" stroke="#8a8a8a" stroke-width="1.1"/>
<text x="152.99" y="520.6" font-size="9.5" fill="#111" class="lb">5:26am</text>
<circle cx="225.71" cy="516.4" r="5.1" fill="#c9c7b1" stroke="#8a8a8a" stroke-width="1.1"/>
<text x="232.91" y="520.6" font-size="9.5" fill="#111" class="lb">6:29am</text>
<circle cx="305.63" cy="516.4" r="5.1" fill="#c9c7b1" stroke="#8a8a8a" stroke-width="1.1"/>
<text x="312.83" y="520.6" font-size="9.5" fill="#111" class="lb">7:32am</text>
<circle cx="385.45" cy="516.4" r="5.1" fill="#c9c7b1" stroke="#8a8a8a" stroke-width="1.1"/>
<text x="392.65" y="520.6" font-size="9.5" fill="#111" class="lb">8:33am</text>
<circle cx="465.21" cy="516.4" r="5.1" fill="#c9c7b1" stroke="#8a8a8a" stroke-width="1.1"/>
<text x="472.41" y="520.6" font-size="9.5" fill="#111" class="lb">9:33am</text>
<circle cx="544.76" cy="516.4" r="5.1" fill="#c9c7b1" stroke="#8a8a8a" stroke-width="1.1"/>
<text x="551.96" y="520.6" font-size="9.5" fill="#111" class="lb">10:29am</text>
<circle cx="624.15" cy="516.4" r="5.1" fill="#c9c7b1" stroke="#8a8a8a" stroke-width="1.1"/>
<text x="631.35" y="520.6" font-size="9.5" fill="#111" class="lb">11:22am</text>
<text x="192.5" y="533.8" font-size="9.5" text-anchor="end" fill="#111" class="lb">Full Moon</text>
<line x1="196.2" y1="528.6" x2="196.2" y2="536.6" stroke="#222" stroke-width="0.9"/>
<text x="199" y="533.8" font-size="9.5" fill="#111" class="lb">9:12pm</text>
</svg></body></html>
